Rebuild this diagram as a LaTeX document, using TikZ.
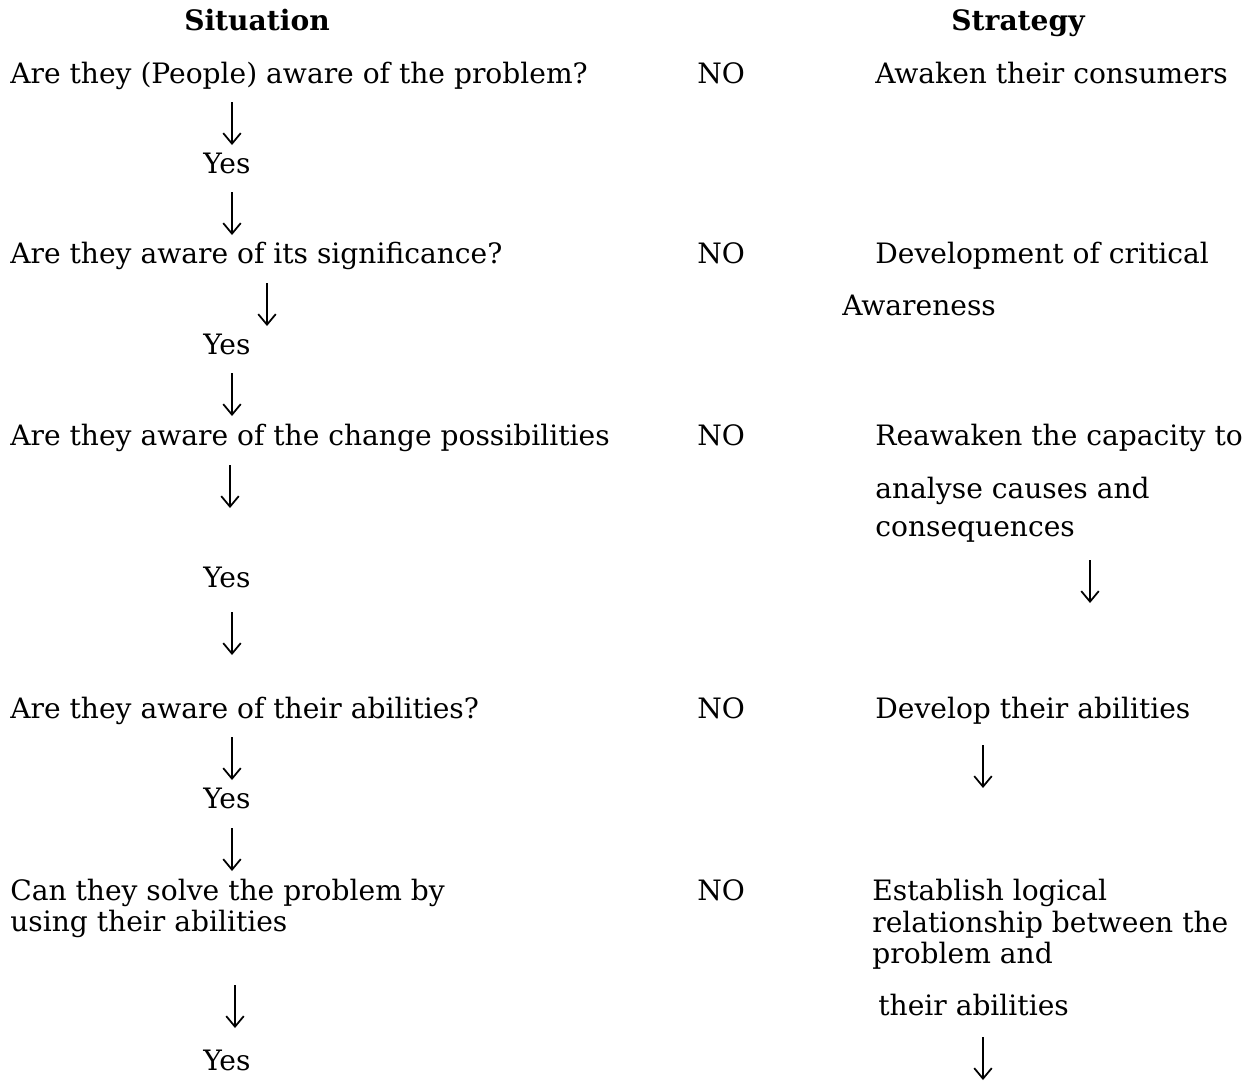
\documentclass[tikz,border=0pt]{standalone}
\usepackage{fontspec}
\setmainfont{DejaVu Serif}
\usetikzlibrary{arrows.meta}

\begin{document}
\begin{tikzpicture}[x=0.02cm, y=-0.02cm,
          txt/.style={anchor=mid west, inner sep=0pt, yshift=-2.5pt, font=\fontsize{16}{18}\selectfont},
          head/.style={anchor=mid, inner sep=0pt, yshift=-2.5pt, font=\fontsize{16}{18}\selectfont\bfseries},
          down/.style={-{Straight Barb[length=6pt,width=10pt]}, line width=1pt},
        ]
        \useasboundingbox (0,0) rectangle (1251,1082);

        % headings
        \node[head] (sit) at (257,22) {Situation};
        \node[head] (str) at (1018,22) {Strategy};

        % situation column
        \node[txt] (q1) at (10,75)  {Are they (People) aware of the problem?};
        \node[txt] (y1) at (203,165) {Yes};
        \node[txt] (q2) at (10,255) {Are they aware of its significance?};
        \node[txt] (y2) at (203,346) {Yes};
        \node[txt] (q3) at (10,437) {Are they aware of the change possibilities};
        \node[txt] (y3) at (203,579) {Yes};
        \node[txt] (q4) at (10,710) {Are they aware of their abilities?};
        \node[txt] (y4) at (203,800) {Yes};
        \node[txt, align=left] (q5) at (10,923) {Can they solve the problem by\\using their abilities};
        \node[txt] (y5) at (203,1062) {Yes};

        % no column
        \foreach \n/\y in {1/75, 2/255, 3/437, 4/710, 5/892}
          \node[txt] (no\n) at (697,\y) {NO};

        % strategy column
        \node[txt] (s1) at (875,75)  {Awaken their consumers};
        \node[txt] (s2a) at (875,255) {Development of critical};
        \node[txt] (s2b) at (842,307) {Awareness};
        \node[txt] (s3a) at (875,437) {Reawaken the capacity to};
        \node[txt] (s3b) at (875,490) {analyse causes and};
        \node[txt] (s3c) at (875,528) {consequences};
        \node[txt] (s4) at (875,710) {Develop their abilities};
        \node[txt, align=left] (s5a) at (872,955) {Establish logical\\relationship between the\\problem and};
        \node[txt] (s5b) at (878,1007) {their abilities};

        % arrows
        \foreach \n/\x/\y in {1/232/102, 2/232/192, 3/267/283, 4/232/373, 5/230/465,
                              6/232/612, 7/232/737, 8/232/828, 9/235/985,
                              10/1090/560, 11/983/745, 12/983/1037} {
          \coordinate (t\n) at (\x,\y);
          \coordinate (b\n) at (\x,\y+43);
          \draw[down] (t\n) -- (b\n);
        }
      \end{tikzpicture}
\end{document}
